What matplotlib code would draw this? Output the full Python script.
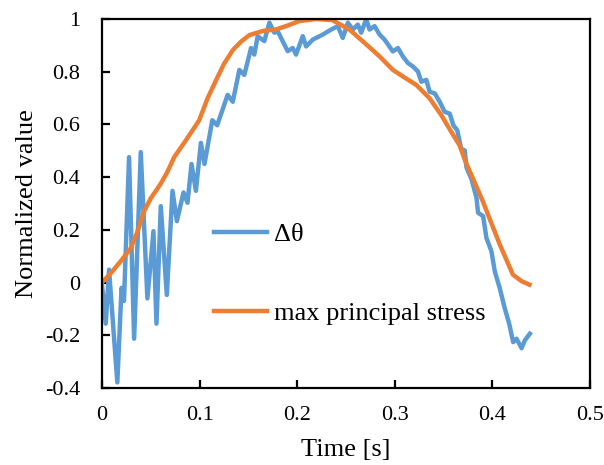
import matplotlib

matplotlib.use("Agg")
import matplotlib.pyplot as plt
from matplotlib.ticker import FuncFormatter

plt.rcParams.update({
    "font.family": ["Liberation Serif", "DejaVu Serif"],
    "axes.unicode_minus": False,
})

# Delta theta (blue)
theta_t = [0.000, 0.0038, 0.0072, 0.0157, 0.0200, 0.0225, 0.0277, 0.0329,
           0.0397, 0.0465, 0.0527, 0.0558, 0.0602, 0.0664, 0.0722, 0.0767,
           0.0835, 0.0876, 0.0917, 0.0962, 0.1013, 0.1050, 0.1130, 0.1180,
           0.1287, 0.1340, 0.1407, 0.1458, 0.1527, 0.1560, 0.1595, 0.1663,
           0.1715, 0.1766, 0.1800, 0.1851, 0.1903, 0.1954, 0.1988, 0.2057,
           0.2091, 0.2160, 0.2262, 0.2348, 0.2416, 0.2467, 0.2519, 0.2570,
           0.2621, 0.2656, 0.2707, 0.2741, 0.2793, 0.2844, 0.2895, 0.2980,
           0.3032, 0.3083, 0.3134, 0.3186, 0.3237, 0.3272, 0.3323, 0.3357,
           0.3409, 0.3460, 0.3511, 0.3563, 0.3600, 0.3640, 0.3680, 0.3717,
           0.3734, 0.3785, 0.3837, 0.3853, 0.3905, 0.3939, 0.3990, 0.4025,
           0.4076, 0.4127, 0.4172, 0.4213, 0.4247, 0.4299, 0.4333, 0.4384]
theta_v = [-0.01, -0.156, 0.049, -0.379, -0.02, -0.07, 0.476, -0.213,
           0.495, -0.06, 0.195, -0.156, 0.29, -0.047, 0.348, 0.233,
           0.342, 0.303, 0.45, 0.348, 0.53, 0.45, 0.616, 0.597,
           0.712, 0.686, 0.807, 0.788, 0.89, 0.865, 0.935, 0.916,
           0.986, 0.948, 0.954, 0.916, 0.878, 0.89, 0.865, 0.935,
           0.896, 0.922, 0.941, 0.96, 0.973, 0.928, 0.986, 0.96,
           0.979, 0.948, 1.0, 0.96, 0.973, 0.941, 0.922, 0.877,
           0.89, 0.858, 0.833, 0.82, 0.801, 0.762, 0.769, 0.724,
           0.718, 0.686, 0.648, 0.641, 0.597, 0.578, 0.508, 0.501,
           0.437, 0.393, 0.322, 0.265, 0.252, 0.169, 0.119, 0.042,
           -0.022, -0.098, -0.156, -0.226, -0.213, -0.249, -0.219, -0.194]

# max principal stress (orange)
stress_t = [0.000, 0.010, 0.020, 0.0295, 0.036, 0.043, 0.050, 0.060,
            0.067, 0.074, 0.086, 0.0996, 0.108, 0.117, 0.125, 0.134,
            0.1424, 0.151, 0.165, 0.178, 0.190, 0.202, 0.219, 0.236,
            0.2535, 0.271, 0.2844, 0.298, 0.3083, 0.322, 0.3357, 0.3477,
            0.358, 0.3665, 0.372, 0.390, 0.4075, 0.421, 0.430, 0.438]
stress_v = [0.000, 0.04, 0.085, 0.131, 0.19, 0.27, 0.32, 0.374,
            0.42, 0.476, 0.54, 0.616, 0.698, 0.769, 0.83, 0.882,
            0.914, 0.939, 0.955, 0.96, 0.975, 0.992, 1.0, 0.996,
            0.96, 0.903, 0.858, 0.807, 0.782, 0.75, 0.699, 0.635,
            0.571, 0.52, 0.463, 0.31, 0.145, 0.03, 0.005, -0.008]

x_ticks = [0, 0.1, 0.2, 0.3, 0.4, 0.5]
y_ticks = [-0.4, -0.2, 0, 0.2, 0.4, 0.6, 0.8, 1.0]

BLUE = "#5B9BD5"
ORANGE = "#ED7D31"

fig = plt.figure(figsize=(6.04, 4.65), dpi=100)
ax = fig.add_axes([0.1689, 0.1656, 0.8079, 0.7935])

ax.plot(theta_t, theta_v, color=BLUE, linewidth=3.2, label="Δθ",
        solid_joinstyle="round")
ax.plot(stress_t, stress_v, color=ORANGE, linewidth=3.2,
        label="max principal stress", solid_joinstyle="round")

ax.set_xlim(0, 0.5)
ax.set_ylim(-0.4, 1.0)
ax.set_xticks(x_ticks)
ax.set_yticks(y_ticks)
fmt = FuncFormatter(lambda v, pos: f"{v:g}")
ax.xaxis.set_major_formatter(fmt)
ax.yaxis.set_major_formatter(fmt)

ax.tick_params(direction="in", length=6, width=1.6, labelsize=16)
ax.tick_params(axis="x", pad=13)
ax.tick_params(axis="y", pad=15.5)
for sp in ax.spines.values():
    sp.set_linewidth(1.6)

ax.set_xlabel("Time [s]", fontsize=19, labelpad=10)
ax.set_ylabel("Normalized value", fontsize=19, labelpad=5)

ax.legend(loc="upper left", bbox_to_anchor=(0.23, 0.448), frameon=False,
          fontsize=19, handlelength=2.0, handletextpad=0.25,
          labelspacing=2.1, borderpad=0, borderaxespad=0)

fig.savefig("out.png", dpi=100)
